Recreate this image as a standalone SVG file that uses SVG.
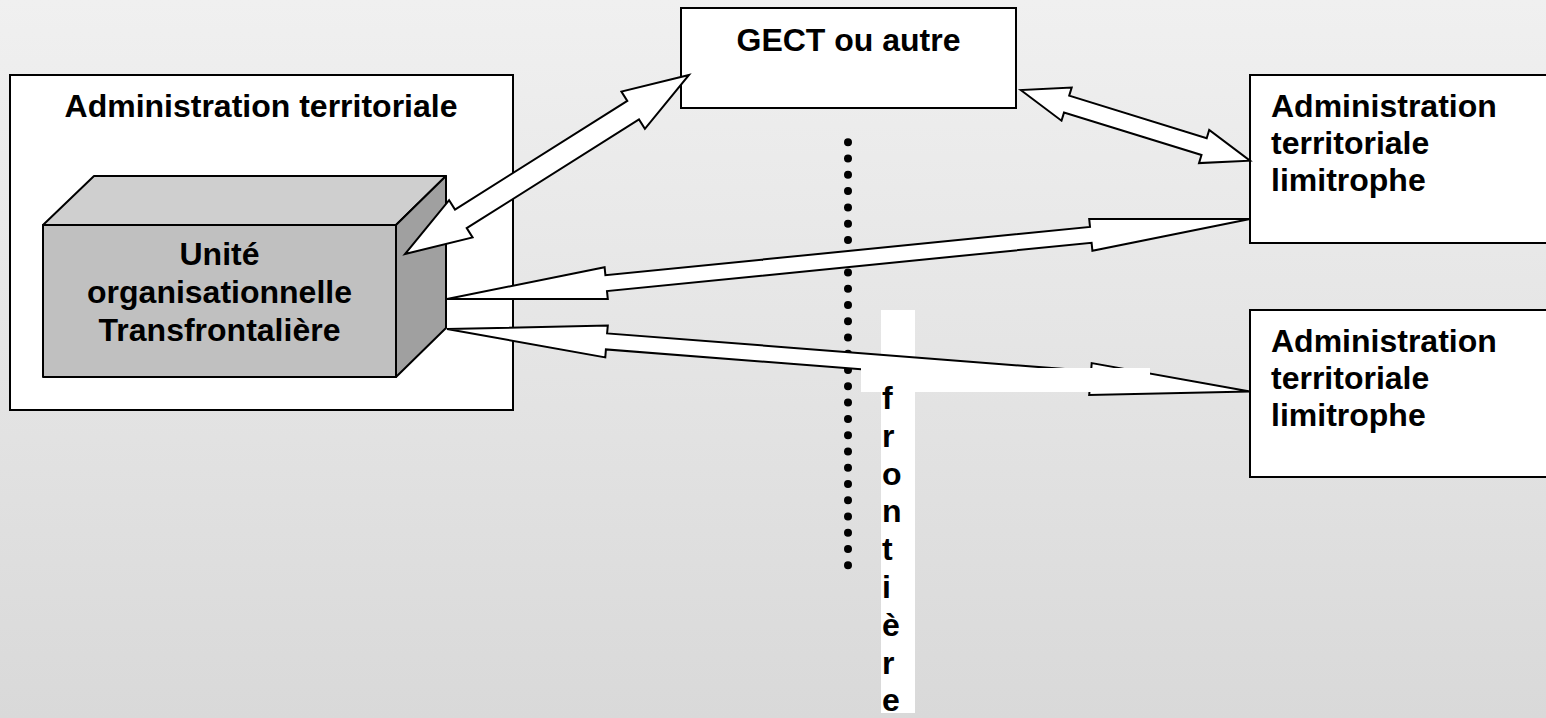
<svg xmlns="http://www.w3.org/2000/svg" width="1546" height="718" viewBox="0 0 1546 718">
<defs>
<linearGradient id="bg" x1="0" y1="0" x2="0" y2="1">
<stop offset="0" stop-color="#f0f0f0"/>
<stop offset="1" stop-color="#d9d9d9"/>
</linearGradient>
</defs>
<style>
.box{fill:#ffffff;stroke:#000000;stroke-width:2}
.t{font-family:"Liberation Sans",Arial,sans-serif;font-weight:bold;font-size:32px;fill:#000000}
.c{text-anchor:middle}
.arrow{fill:#ffffff;stroke:#000000;stroke-width:2;stroke-linejoin:miter}
.face{stroke:#000000;stroke-width:2;stroke-linejoin:round}
</style>
<rect x="0" y="0" width="1546" height="718" fill="url(#bg)"/>

<g id="admin-territoriale">
<rect class="box" x="10" y="75" width="503" height="335"/>
<text class="t c" x="261" y="117">Administration territoriale</text>
</g>

<g id="unite-organisationnelle">
<polygon class="face" fill="#cfcfcf" points="43,225 94,176 446,176 396,225"/>
<polygon class="face" fill="#a0a0a0" points="396,225 446,176 446,328 396,377"/>
<rect class="face" fill="#c0c0c0" x="43" y="225" width="353" height="152"/>
<text class="t c" x="219.5" y="265">Unité</text>
<text class="t c" x="219.5" y="303">organisationnelle</text>
<text class="t c" x="219.5" y="341">Transfrontalière</text>
</g>

<g id="gect">
<rect class="box" x="681" y="8" width="335" height="100"/>
<text class="t c" x="848.5" y="51">GECT ou autre</text>
</g>

<g id="admin-limitrophe-1">
<rect class="box" x="1250" y="75" width="310" height="168"/>
<text class="t" x="1271" y="117">Administration</text>
<text class="t" x="1271" y="154">territoriale</text>
<text class="t" x="1271" y="191">limitrophe</text>
</g>

<g id="admin-limitrophe-2">
<rect class="box" x="1250" y="310" width="310" height="167"/>
<text class="t" x="1271" y="352">Administration</text>
<text class="t" x="1271" y="389">territoriale</text>
<text class="t" x="1271" y="426">limitrophe</text>
</g>

<g id="frontiere-line">
<line x1="848" y1="142.3" x2="848" y2="566" stroke="#000000" stroke-width="8" stroke-linecap="round" stroke-dasharray="0 16.27"/>
</g>

<g id="frontiere-bg">
<rect x="881" y="310" width="34" height="403" fill="#ffffff"/>
</g>

<g id="connectors">
<polygon class="arrow" points="405,254 472.6,237.4 466.7,228.1 639.0,119.5 644.9,128.8 689,75 621.4,91.6 627.3,100.9 455.0,209.5 449.1,200.2"/>
<polygon class="arrow" points="1020.7,90 1061.5,120.7 1064.0,112.6 1201.5,155.0 1199.0,163.1 1250,160.7 1209.2,130.0 1206.7,138.2 1069.2,95.7 1071.7,87.6"/>
<polygon class="arrow" points="447,299 607.8,299.1 607.0,291.1 1091.6,242.8 1092.4,250.8 1250,219 1089.2,218.9 1090.0,226.9 605.4,275.2 604.6,267.2"/>
<polygon class="arrow" points="447,329 605.3,357.4 605.9,349.4 1089.9,387.1 1089.2,395.0 1250,391.5 1091.7,363.1 1091.1,371.1 607.1,333.4 607.8,325.5"/>
</g>

<g id="frontiere">
<rect x="861" y="368" width="289" height="24" fill="#ffffff"/>
<text class="t" x="882" y="409">f</text>
<text class="t" x="882" y="446.8">r</text>
<text class="t" x="882" y="484.6">o</text>
<text class="t" x="882" y="522.4">n</text>
<text class="t" x="882" y="560.2">t</text>
<text class="t" x="882" y="598">i</text>
<text class="t" x="882" y="635.8">è</text>
<text class="t" x="882" y="673.6">r</text>
<text class="t" x="882" y="711.4">e</text>
</g>
</svg>
